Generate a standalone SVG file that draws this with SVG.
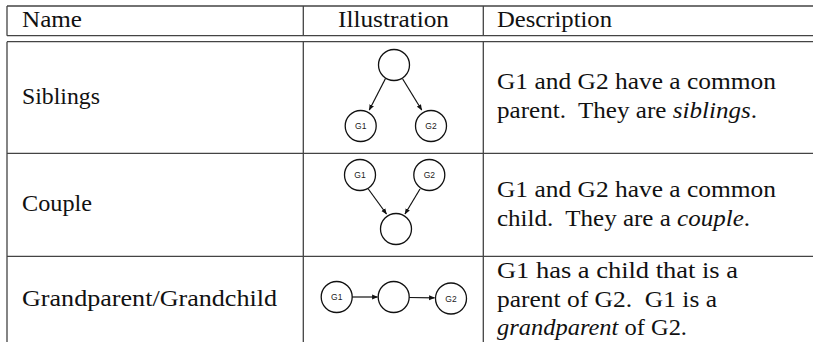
<svg xmlns="http://www.w3.org/2000/svg" width="813" height="342" viewBox="0 0 813 342">
<defs>
<style>
.grid{stroke:#444;stroke-width:1.3;fill:none}
.t{font-family:"Liberation Serif","Times New Roman",serif;font-size:23px;fill:#111}
.it{font-style:italic}
.node circle{fill:#fff;stroke:#111;stroke-width:1.3}
.lbl{font-family:"Liberation Sans",Arial,sans-serif;font-size:8.5px;fill:#222;text-anchor:middle}
.edge{stroke:#111;stroke-width:1.2;fill:none;marker-end:url(#ah)}
</style>
<marker id="ah" viewBox="0 0 10 10" refX="9" refY="5" markerWidth="6" markerHeight="6" markerUnits="userSpaceOnUse" orient="auto">
<path d="M0,1 L10,5 L0,9 z" fill="#111"/>
</marker>
</defs>
<rect width="813" height="342" fill="#fff"/>
<g id="table">
<path class="grid" d="M7,6 H813 M7,35.7 H813 M7,6 V35.7 M303.3,6 V35.7 M483.3,6 V35.7"/>
<path class="grid" d="M7,41.7 H813 M7,153.3 H813 M7,256.3 H813 M7,41.7 V342 M303.3,41.7 V342 M483.3,41.7 V342"/>
</g>
<g id="header">
<text class="t" x="22" y="27" textLength="60" lengthAdjust="spacingAndGlyphs">Name</text>
<text class="t" x="338" y="27" textLength="111" lengthAdjust="spacingAndGlyphs">Illustration</text>
<text class="t" x="497" y="27" textLength="115" lengthAdjust="spacingAndGlyphs">Description</text>
</g>
<g id="names">
<text class="t" x="22" y="104" textLength="78" lengthAdjust="spacingAndGlyphs">Siblings</text>
<text class="t" x="22" y="211" textLength="70" lengthAdjust="spacingAndGlyphs">Couple</text>
<text class="t" x="22" y="306" textLength="255" lengthAdjust="spacingAndGlyphs">Grandparent/Grandchild</text>
</g>
<g id="descriptions">
<text class="t" x="497" y="89" textLength="279" lengthAdjust="spacingAndGlyphs">G1 and G2 have a common</text>
<text class="t" x="497" y="118" textLength="260" lengthAdjust="spacingAndGlyphs">parent.&#160; They are <tspan class="it">siblings</tspan>.</text>
<text class="t" x="497" y="197" textLength="279" lengthAdjust="spacingAndGlyphs">G1 and G2 have a common</text>
<text class="t" x="497" y="226" textLength="253" lengthAdjust="spacingAndGlyphs">child.&#160; They are a <tspan class="it">couple</tspan>.</text>
<text class="t" x="497" y="278" textLength="241" lengthAdjust="spacingAndGlyphs">G1 has a child that is a</text>
<text class="t" x="497" y="307" textLength="220" lengthAdjust="spacingAndGlyphs">parent of G2.&#160; G1 is a</text>
<text class="t" x="497" y="335" textLength="190" lengthAdjust="spacingAndGlyphs"><tspan class="it">grandparent</tspan> of G2.</text>
</g>
<g id="siblings-parent" class="node"><circle cx="394" cy="65" r="15.5"/></g>
<g id="siblings-g1" class="node"><circle cx="360.7" cy="126" r="15.5"/><text class="lbl" x="360.7" y="129">G1</text></g>
<g id="siblings-g2" class="node"><circle cx="431" cy="126" r="15.5"/><text class="lbl" x="431" y="129">G2</text></g>
<g id="couple-g1" class="node"><circle cx="360" cy="175" r="15.5"/><text class="lbl" x="360" y="178">G1</text></g>
<g id="couple-g2" class="node"><circle cx="429.3" cy="175" r="15.5"/><text class="lbl" x="429.3" y="178">G2</text></g>
<g id="couple-child" class="node"><circle cx="396" cy="229" r="15.5"/></g>
<g id="gp-g1" class="node"><circle cx="336.7" cy="297" r="15.5"/><text class="lbl" x="336.7" y="300">G1</text></g>
<g id="gp-mid" class="node"><circle cx="393.7" cy="297" r="15.5"/></g>
<g id="gp-g2" class="node"><circle cx="451" cy="298.5" r="15.5"/><text class="lbl" x="451" y="301.5">G2</text></g>
<g id="connectors">
<line class="edge" x1="385.5" y1="78.5" x2="369.3" y2="110"/>
<line class="edge" x1="402.7" y1="79" x2="421.7" y2="110"/>
<line class="edge" x1="368.3" y1="189" x2="386.5" y2="214"/>
<line class="edge" x1="420" y1="189" x2="405" y2="214"/>
<line class="edge" x1="352.2" y1="297" x2="377.5" y2="297"/>
<line class="edge" x1="409.2" y1="297.5" x2="434.5" y2="297.8"/>
</g>
</svg>
